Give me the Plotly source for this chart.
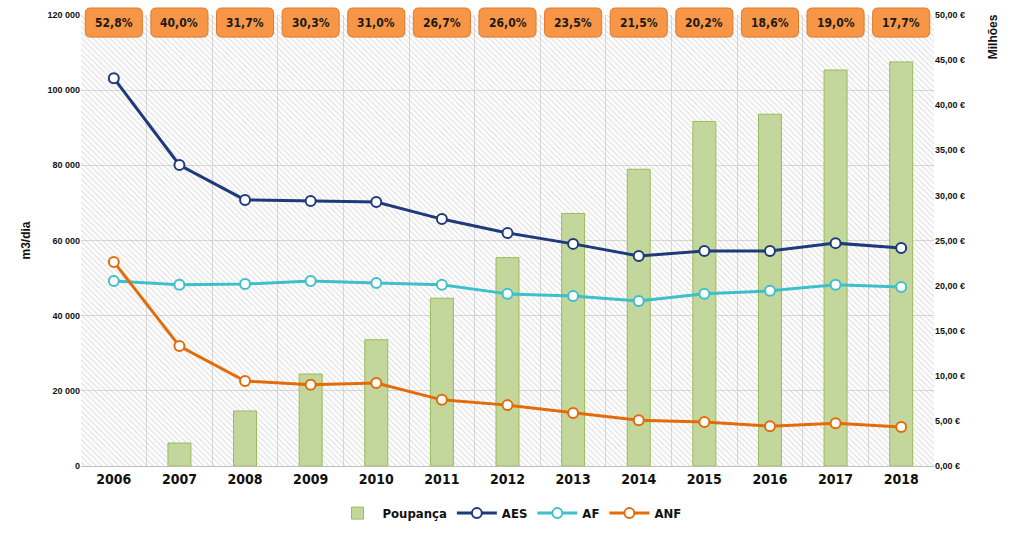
import plotly.graph_objects as go

years = ["2006", "2007", "2008", "2009", "2010", "2011", "2012", "2013", "2014", "2015", "2016", "2017", "2018"]
poupanca = [None, 2.55, 6.1, 10.2, 14.0, 18.6, 23.1, 28.0, 32.9, 38.2, 39.0, 43.9, 44.8]
aes = [103200, 80100, 70800, 70500, 70250, 65700, 62000, 59100, 55900, 57200, 57200, 59300, 58000]
af = [49200, 48200, 48400, 49200, 48700, 48200, 45800, 45200, 43900, 45800, 46600, 48200, 47600]
anf = [54300, 31900, 22600, 21600, 22100, 17600, 16200, 14100, 12200, 11700, 10600, 11400, 10400]
pct = ["52,8%", "40,0%", "31,7%", "30,3%", "31,0%", "26,7%", "26,0%", "23,5%", "21,5%", "20,2%", "18,6%", "19,0%", "17,7%"]

FONT = "Liberation Sans Narrow, DejaVu Sans Condensed, Arial Narrow, sans-serif"
FONT2 = "Liberation Sans, Arial, sans-serif"

fig = go.Figure()

# hatched plot background
fig.add_trace(go.Bar(
    x=years, y=[50] * len(years), width=1, yaxis="y",
    marker=dict(color="rgba(0,0,0,0)", line=dict(width=0),
                pattern=dict(shape="\\", fgcolor="#b8b8b8", bgcolor="rgba(0,0,0,0)", size=4, solidity=0.28)),
    showlegend=False, hoverinfo="skip"))

fig.add_trace(go.Bar(
    x=years, y=poupanca, width=0.35, yaxis="y", name="Poupança",
    marker=dict(color="#C3D69B", line=dict(color="#9BBB59", width=1))))

def line(vals, name, color):
    fig.add_trace(go.Scatter(
        x=years, y=vals, yaxis="y2", name=name, mode="lines+markers",
        line=dict(color=color, width=3),
        marker=dict(symbol="circle", size=10, color="white", line=dict(color=color, width=2))))

line(aes, "AES", "#1F3A7A")
line(af, "AF", "#3FBFCC")
line(anf, "ANF", "#E36C0A")

shapes = []
annotations = []
hw = 0.435
y0, y1 = 0.951, 1.0155
rx, ry = 0.08, 0.012
for i, p in enumerate(pct):
    xa, xb = i - hw, i + hw
    path = (f"M {xa+rx},{y0} L {xb-rx},{y0} Q {xb},{y0} {xb},{y0+ry} L {xb},{y1-ry} "
            f"Q {xb},{y1} {xb-rx},{y1} L {xa+rx},{y1} Q {xa},{y1} {xa},{y1-ry} "
            f"L {xa},{y0+ry} Q {xa},{y0} {xa+rx},{y0} Z")
    shapes.append(dict(type="path", xref="x", yref="paper", path=path,
                       fillcolor="#F79646", line=dict(color="#E0782A", width=1), layer="above"))
    annotations.append(dict(x=i, y=(y0 + y1) / 2, xref="x", yref="paper", text=p,
                            xanchor="center", yanchor="middle",
                            showarrow=False, font=dict(family=FONT, size=12, color="#1a1a1a", weight="bold")))

annotations.append(dict(x=1, y=1.005, xref="paper", yref="paper", xanchor="left", yanchor="top",
                        xshift=50, text="Milhões", textangle=-90, showarrow=False,
                        font=dict(family=FONT2, size=12, color="#111", weight="bold")))

fig.update_layout(
    width=1019, height=534,
    margin=dict(l=81, r=85, t=15, b=68),
    paper_bgcolor="white", plot_bgcolor="white",
    separators=", ",
    barmode="overlay",
    shapes=shapes, annotations=annotations,
    xaxis=dict(type="category", range=[-0.5, 12.5], tickson="boundaries", showgrid=True,
               gridcolor="#d9d9d9", gridwidth=1, ticks="", showline=True, linecolor="#bfbfbf",
               automargin=False,
               tickfont=dict(family=FONT, size=14, color="#111", weight="bold")),
    yaxis=dict(side="right", range=[0, 50], dtick=5, tickformat=".2f", ticksuffix=" €",
               showgrid=False, zeroline=False, automargin=False,
               tickfont=dict(family=FONT2, size=9, color="#111", weight="bold")),
    yaxis2=dict(overlaying="y", side="left", range=[0, 120000], dtick=20000, tickformat=",.0f",
                showgrid=True, gridcolor="#d9d9d9", gridwidth=1, zeroline=False, automargin=False,
                title=dict(text="m3/dia", standoff=14,
                           font=dict(family=FONT2, size=12, color="#111", weight="bold")),
                tickfont=dict(family=FONT2, size=9, color="#111", weight="bold")),
    legend=dict(orientation="h", x=0.5, xanchor="center", xref="container",
                y=0.039, yanchor="middle", yref="container",
                font=dict(family=FONT, size=13, color="#111", weight="bold"), itemwidth=40),
)

fig.write_html("out.html", config={"displayModeBar": False},
               post_script="document.body.style.margin='0';document.body.style.overflow='hidden';")
